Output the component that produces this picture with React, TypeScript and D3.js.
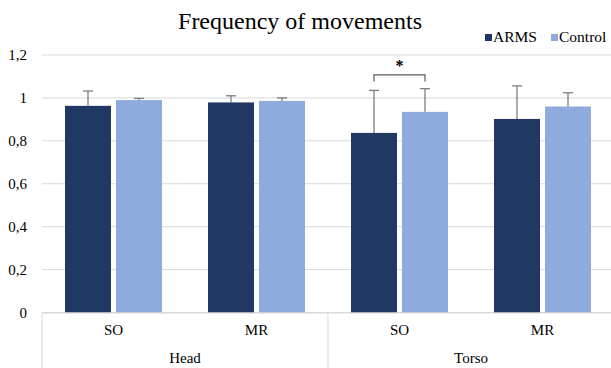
import React from "react";
import * as d3 from "d3";

const groups = ["Head", "Torso"];
const subCategories = ["SO", "MR"];
const series = ["ARMS", "Control"];
const armsValues = [0.963, 0.979, 0.837, 0.902];
const armsErrors = [0.069, 0.031, 0.198, 0.154];
const controlValues = [0.99, 0.986, 0.935, 0.96];
const controlErrors = [0.008, 0.014, 0.108, 0.064];
const yTicks = [0, 0.2, 0.4, 0.6, 0.8, 1, 1.2];
const colors = ["#1f3864", "#8faadc"];

const W = 611;
const H = 368;
const left = 42;
const right = 614;
const top = 55;
const bottom = 312.5;

export default function App() {
  const keys = groups.flatMap((g) => subCategories.map((s) => g + "|" + s));
  const x = d3.scaleBand<string>().domain(keys).range([left, right]);
  const xg = d3.scaleBand<string>().domain(groups).range([left, right]);
  const xs = d3
    .scaleBand<string>()
    .domain(series)
    .range([0, x.bandwidth()])
    .paddingInner(0.098)
    .paddingOuter(0.451);
  const y = d3.scaleLinear().domain([0, 1.2]).range([bottom, top]);
  const fmt = (v: number) => d3.format("~g")(v).replace(".", ",");

  const values = [armsValues, controlValues];
  const errors = [armsErrors, controlErrors];
  const font = "Liberation Serif";

  // significance bracket over Torso SO
  const sigKey = "Torso|SO";
  const bx1 = x(sigKey)! + xs("ARMS")! + xs.bandwidth() / 2;
  const bx2 = x(sigKey)! + xs("Control")! + xs.bandwidth() / 2;
  const by = y(1.107);

  return (
    <svg
      width={W}
      height={H}
      fontFamily={font}
      style={{ position: "absolute", left: 0, top: 0 }}
    >
      <rect width={W} height={H} fill="#fff" />
      <text x={300} y={29} textAnchor="middle" fontSize={24} fill="#000">
        Frequency of movements
      </text>

      {/* legend */}
      {series.map((s, i) => {
        const lx = [485, 551][i];
        return (
          <g key={s}>
            <rect x={lx} y={34} width={7} height={7} fill={colors[i]} />
            <text x={lx + 8} y={42} fontSize={15.5} fill="#000">
              {s}
            </text>
          </g>
        );
      })}

      {/* grid */}
      {yTicks.map((t) => (
        <g key={t}>
          <line x1={left} x2={W} y1={y(t)} y2={y(t)} stroke="#d9d9d9" strokeWidth={1} />
          <text x={27} y={y(t) + 5} textAnchor="end" fontSize={15} fill="#000">
            {fmt(t)}
          </text>
        </g>
      ))}

      {/* bars */}
      {keys.map((k, ci) =>
        series.map((s, si) => {
          const bx = x(k)! + xs(s)!;
          const v = values[si][ci];
          const e = errors[si][ci];
          const cx = bx + xs.bandwidth() / 2;
          return (
            <g key={k + s}>
              <rect
                x={bx}
                y={y(v)}
                width={xs.bandwidth()}
                height={y(0) - y(v)}
                fill={colors[si]}
              />
              <line x1={cx} x2={cx} y1={y(v)} y2={y(v + e)} stroke="#7f7f7f" strokeWidth={1.3} />
              <line x1={cx - 5} x2={cx + 5} y1={y(v + e)} y2={y(v + e)} stroke="#7f7f7f" strokeWidth={1.3} />
            </g>
          );
        })
      )}

      {/* significance */}
      <path
        d={`M${bx1},${by + 6.5}V${by}H${bx2}V${by + 6.5}`}
        fill="none"
        stroke="#595959"
        strokeWidth={1.2}
      />
      <text x={(bx1 + bx2) / 2} y={by - 4} textAnchor="middle" fontSize={16} fontWeight="bold" fill="#000">
        *
      </text>

      {/* category axis */}
      <line x1={left} x2={W} y1={bottom + 0.5} y2={bottom + 0.5} stroke="#d9d9d9" />
      {groups.map((g) => (
        <line
          key={g}
          x1={xg(g)!}
          x2={xg(g)!}
          y1={bottom}
          y2={H}
          stroke="#d9d9d9"
        />
      ))}
      {keys.map((k) => (
        <text
          key={k}
          x={x(k)! + x.bandwidth() / 2}
          y={335}
          textAnchor="middle"
          fontSize={15}
          fill="#000"
        >
          {k.split("|")[1]}
        </text>
      ))}
      {groups.map((g) => (
        <text
          key={g}
          x={xg(g)! + xg.bandwidth() / 2}
          y={363}
          textAnchor="middle"
          fontSize={15}
          fill="#000"
        >
          {g}
        </text>
      ))}
    </svg>
  );
}
